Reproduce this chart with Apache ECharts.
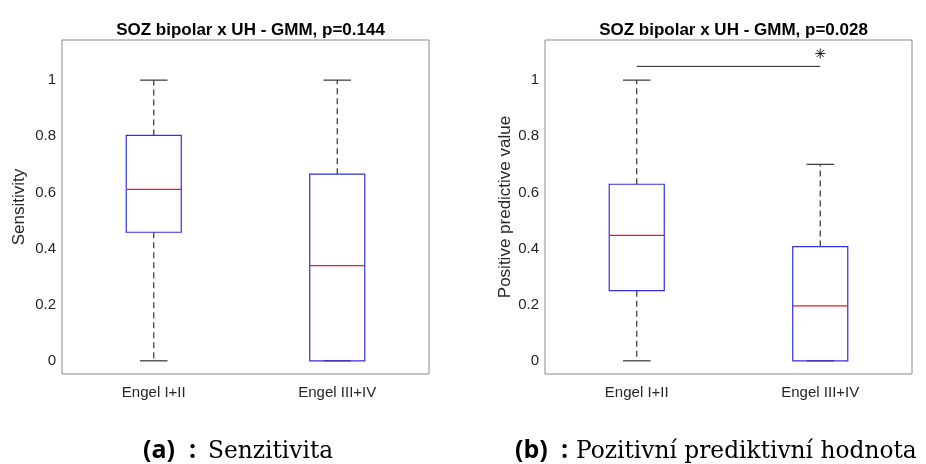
<!DOCTYPE html>
<html>
<head>
<meta charset="utf-8">
<script src="https://cdn.jsdelivr.net/npm/echarts@6/dist/echarts.min.js"></script>
<style>
  html, body { margin: 0; padding: 0; background: #fff; }
  #chart { width: 926px; height: 464px; }
</style>
</head>
<body>
<div id="chart"></div>
<script>
// Groups compared in both panels
const categories = ['Engel I+II', 'Engel III+IV'];

// Box statistics per group: [min, Q1, median, Q3, max]
const sensitivityStats = [
  [0, 0.458, 0.611, 0.803, 1.0],
  [0, 0.0, 0.339, 0.665, 1.0]
];
const ppvStats = [
  [0, 0.250, 0.447, 0.629, 1.0],
  [0, 0.0, 0.196, 0.407, 0.700]
];

// Y axis range and tick labels
const yMin = -0.047;
const yMax = 1.143;
const yTicks = [0, 0.2, 0.4, 0.6, 0.8, 1];

// Significance bracket between the two groups of the PPV panel
const sigBarLevel = 1.049;
const sigStarLevel = 1.095;

const titles = ['SOZ bipolar x UH - GMM, p=0.144', 'SOZ bipolar x UH - GMM, p=0.028'];
const yNames = ['Sensitivity', 'Positive predictive value'];
const captionTags = ['(a)', '(b)'];
const captionTexts = ['Senzitivita', 'Pozitivní prediktivní hodnota'];

const AXIS_COLOR = '#8a8a8a';
const TEXT_COLOR = '#262626';
const BOX_COLOR = '#3030e0';
const MEDIAN_COLOR = '#e81c1c';
const WHISKER_COLOR = '#333333';
const FONT = '"Liberation Sans", Arial, sans-serif';
const LINE_W = 1.2;

function boxRenderer(params, api) {
  const idx = api.value(0);
  const yOf = v => api.coord([idx, v])[1];
  const yMinP = yOf(api.value(1));
  const yQ1 = yOf(api.value(2));
  const yMed = yOf(api.value(3));
  const yQ3 = yOf(api.value(4));
  const yMaxP = yOf(api.value(5));
  const band = api.size([1, 0])[0];
  const half = band * 0.15;
  const cap = band * 0.075;
  const x = api.coord([idx, 0])[0];
  const dashed = { stroke: WHISKER_COLOR, lineWidth: LINE_W, lineDash: [6, 4], fill: null };
  const solid = (c) => ({ stroke: c, lineWidth: LINE_W, fill: null });
  const children = [];
  if (yQ3 - yMaxP > 0.5) {
    children.push({ type: 'line', shape: { x1: x, y1: yQ3, x2: x, y2: yMaxP }, style: dashed });
  }
  if (yMinP - yQ1 > 0.5) {
    children.push({ type: 'line', shape: { x1: x, y1: yQ1, x2: x, y2: yMinP }, style: dashed });
  }
  children.push({ type: 'line', shape: { x1: x - cap, y1: yMaxP, x2: x + cap, y2: yMaxP }, style: solid(WHISKER_COLOR) });
  children.push({ type: 'line', shape: { x1: x - cap, y1: yMinP, x2: x + cap, y2: yMinP }, style: solid(WHISKER_COLOR) });
  children.push({ type: 'rect', shape: { x: x - half, y: yQ3, width: half * 2, height: yQ1 - yQ3 }, style: solid(BOX_COLOR) });
  children.push({ type: 'line', shape: { x1: x - half, y1: yMed, x2: x + half, y2: yMed }, style: solid(MEDIAN_COLOR) });
  return { type: 'group', children: children };
}

function sigRenderer(params, api) {
  const a = api.coord([api.value(0), api.value(2)]);
  const b = api.coord([api.value(1), api.value(2)]);
  const s = api.coord([(api.value(0) + api.value(1)) / 2, api.value(3)]);
  const r = 5;
  const d = 3.5;
  const st = { stroke: '#222', lineWidth: 1 };
  return {
    type: 'group',
    children: [
      { type: 'line', shape: { x1: a[0], y1: a[1], x2: b[0], y2: b[1] }, style: st },
      { type: 'line', shape: { x1: s[0] - r, y1: s[1], x2: s[0] + r, y2: s[1] }, style: st },
      { type: 'line', shape: { x1: s[0], y1: s[1] - r, x2: s[0], y2: s[1] + r }, style: st },
      { type: 'line', shape: { x1: s[0] - d, y1: s[1] - d, x2: s[0] + d, y2: s[1] + d }, style: st },
      { type: 'line', shape: { x1: s[0] - d, y1: s[1] + d, x2: s[0] + d, y2: s[1] - d }, style: st }
    ]
  };
}

const gridLefts = [62, 545];
const gridWidth = 367;
const gridTop = 40;
const gridHeight = 334;

const grids = gridLefts.map(l => ({
  left: l, top: gridTop, width: gridWidth, height: gridHeight,
  show: true, borderColor: AXIS_COLOR, borderWidth: 1, backgroundColor: '#fff'
}));

const tickStyle = { inside: true, length: 4, lineStyle: { color: AXIS_COLOR, width: 1 } };

const xAxes = [];
const yAxes = [];
[0, 1].forEach(g => {
  xAxes.push({
    type: 'category', gridIndex: g, data: categories, boundaryGap: true, position: 'bottom',
    axisLine: { show: false },
    axisTick: Object.assign({ alignWithLabel: true }, tickStyle),
    axisLabel: { color: TEXT_COLOR, fontSize: 15, fontFamily: FONT, margin: 11 }
  });
  xAxes.push({
    type: 'category', gridIndex: g, data: categories, boundaryGap: true, position: 'top',
    axisLine: { show: false },
    axisTick: Object.assign({ alignWithLabel: true }, tickStyle),
    axisLabel: { show: false }
  });
  yAxes.push({
    type: 'value', gridIndex: g, min: yMin, max: yMax, position: 'left',
    name: yNames[g], nameLocation: 'middle', nameGap: g === 0 ? 34 : 31,
    nameTextStyle: { color: TEXT_COLOR, fontSize: 17, fontFamily: FONT },
    axisLine: { show: false },
    axisTick: Object.assign({ customValues: yTicks }, tickStyle),
    axisLabel: { customValues: yTicks, color: TEXT_COLOR, fontSize: 15, fontFamily: FONT, margin: 6 },
    splitLine: { show: false }
  });
  yAxes.push({
    type: 'value', gridIndex: g, min: yMin, max: yMax, position: 'right',
    axisLine: { show: false },
    axisTick: Object.assign({ customValues: yTicks }, tickStyle),
    axisLabel: { show: false },
    splitLine: { show: false }
  });
});

const toBoxData = stats => stats.map((s, i) => [i].concat(s));

// figure captions below each panel: bold tag, colon, serif description
const tagLefts = [143, 515];
const colonLefts = [189, 561];
const textLefts = [208, 576];
const captionTop = 439;
const tagStyle = { fontFamily: '"Open Sans", "DejaVu Sans", sans-serif', fontWeight: 'bold', fontSize: 25, fill: '#000' };
const captionGraphics = [];
[0, 1].forEach(g => {
  captionGraphics.push({
    type: 'text', left: tagLefts[g], top: captionTop - 1,
    style: Object.assign({ text: captionTags[g] }, tagStyle)
  });
  captionGraphics.push({
    type: 'text', left: colonLefts[g], top: captionTop - 1,
    style: Object.assign({ text: ':' }, tagStyle)
  });
  captionGraphics.push({
    type: 'text', left: textLefts[g], top: captionTop + 1,
    style: { text: captionTexts[g], fontFamily: '"DejaVu Serif", serif', fontSize: 23.3, fill: '#000' }
  });
});

const option = {
  animation: false,
  backgroundColor: '#fff',
  title: titles.map((t, g) => ({
    text: t,
    left: gridLefts[g] + gridWidth / 2,
    textAlign: 'center',
    top: 17,
    textStyle: { fontSize: 17, fontWeight: 'bold', color: '#000', fontFamily: FONT }
  })),
  grid: grids,
  xAxis: xAxes,
  yAxis: yAxes,
  series: [
    { type: 'custom', xAxisIndex: 0, yAxisIndex: 0, renderItem: boxRenderer, data: toBoxData(sensitivityStats), clip: false },
    { type: 'custom', xAxisIndex: 2, yAxisIndex: 2, renderItem: boxRenderer, data: toBoxData(ppvStats), clip: false },
    { type: 'custom', xAxisIndex: 2, yAxisIndex: 2, renderItem: sigRenderer, data: [[0, 1, sigBarLevel, sigStarLevel]], clip: false }
  ],
  graphic: captionGraphics
};

const chart = echarts.init(document.getElementById('chart'), null, { renderer: 'canvas' });
chart.setOption(option);
</script>
</body>
</html>
